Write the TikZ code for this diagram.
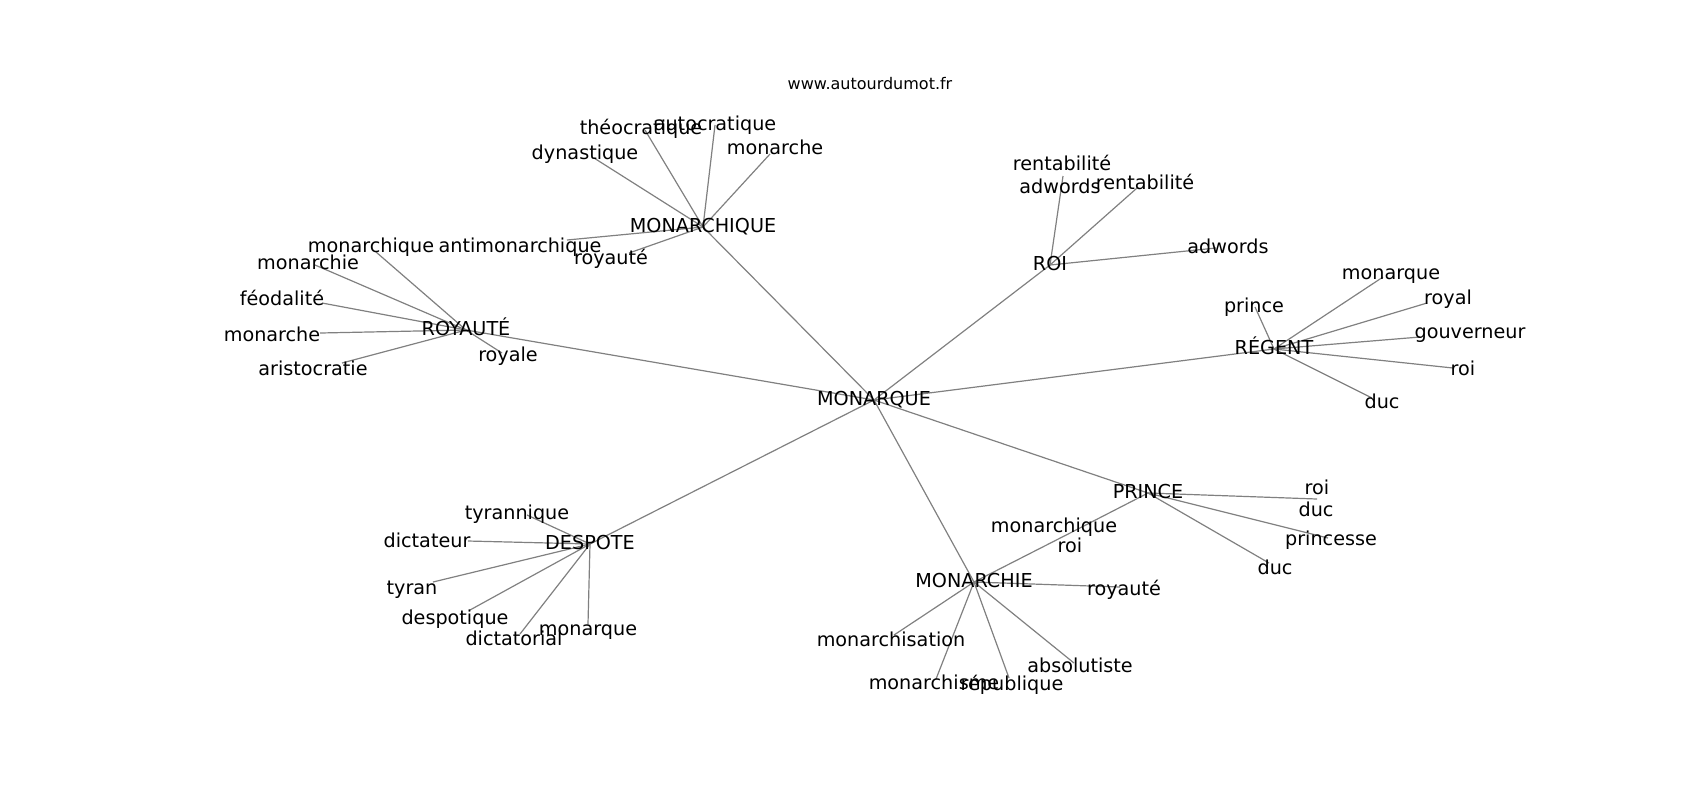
\documentclass[tikz,border=0pt]{standalone}
\usepackage{fontspec}
\setmainfont{DejaVu Sans}
\usetikzlibrary{backgrounds}

\begin{document}
\begin{tikzpicture}[x=0.5pt,y=-0.5pt,
  word/.style={inner sep=0pt,text height=0.76em,text depth=0.24em,font=\fontsize{9.6}{11}\selectfont},
  leaf/.style={word,yshift=-1pt},
  link/.style={draw=black!50,line width=0.6pt}]
\useasboundingbox (0,0) rectangle (1700,800);
\node[word,font=\fontsize{8}{10}\selectfont] (site) at (870,84) {www.autourdumot.fr};

% hubs
\node[word] (monarque) at (874,400) {MONARQUE};
\node[word] (monarchique) at (703,227) {MONARCHIQUE};
\node[word] (royaute) at (466,330) {ROYAUTÉ};
\node[word] (roi) at (1050,265) {ROI};
\node[word] (regent) at (1274,349) {RÉGENT};
\node[word] (prince) at (1148,493) {PRINCE};
\node[word] (monarchie) at (974,582) {MONARCHIE};
\node[word] (despote) at (590,544) {DESPOTE};

% leaves of MONARCHIQUE
\node[leaf] (mq-dyn) at (585,152) {dynastique};
\node[leaf] (mq-theo) at (641,127) {théocratique};
\node[leaf] (mq-auto) at (715,123) {autocratique};
\node[leaf] (mq-mche) at (775,147) {monarche};
\node[leaf] (mq-anti) at (520,245) {antimonarchique};
\node[leaf] (mq-roy) at (611,257) {royauté};
\coordinate (mq-dyn-p) at (594,158);
\coordinate (mq-theo-p) at (645,130);
\coordinate (mq-auto-p) at (715,125);
\coordinate (mq-mche-p) at (770,154);
\coordinate (mq-anti-p) at (567,240);
\coordinate (mq-roy-p) at (629,253);

% leaves of ROYAUTE
\node[leaf] (ry-mqe) at (371,245) {monarchique};
\node[leaf] (ry-mie) at (308,262) {monarchie};
\node[leaf] (ry-feo) at (282,298) {féodalité};
\node[leaf] (ry-mche) at (272,334) {monarche};
\node[leaf] (ry-ari) at (313,368) {aristocratie};
\node[leaf] (ry-ale) at (508,354) {royale};
\coordinate (ry-mqe-p) at (376,252);
\coordinate (ry-mie-p) at (315,265);
\coordinate (ry-feo-p) at (322,303);
\coordinate (ry-mche-p) at (320,333);
\coordinate (ry-ari-p) at (342,363);
\coordinate (ry-ale-p) at (502,353);

% leaves of ROI
\node[leaf] (ro-ren1) at (1062,163) {rentabilité};
\node[leaf] (ro-adw1) at (1060,186) {adwords};
\node[leaf] (ro-ren2) at (1145,182) {rentabilité};
\node[leaf] (ro-adw2) at (1228,246) {adwords};
\coordinate (ro-ren1-p) at (1063,176);
\coordinate (ro-ren2-p) at (1137,188);
\coordinate (ro-adw2-p) at (1216,248);

% leaves of REGENT
\node[leaf] (rg-pri) at (1254,305) {prince};
\node[leaf] (rg-mqe) at (1391,272) {monarque};
\node[leaf] (rg-ral) at (1448,297) {royal};
\node[leaf] (rg-gou) at (1470,331) {gouverneur};
\node[leaf] (rg-roi) at (1463,368) {roi};
\node[leaf] (rg-duc) at (1382,401) {duc};
\coordinate (rg-pri-p) at (1255,307);
\coordinate (rg-mqe-p) at (1383,277);
\coordinate (rg-ral-p) at (1427,303);
\coordinate (rg-gou-p) at (1420,337);
\coordinate (rg-roi-p) at (1453,368);
\coordinate (rg-duc-p) at (1372,398);

% leaves of PRINCE
\node[leaf] (pr-roi1) at (1317,487) {roi};
\node[leaf] (pr-duc1) at (1316,509) {duc};
\node[leaf] (pr-ess) at (1331,538) {princesse};
\node[leaf] (pr-duc2) at (1275,567) {duc};
\node[leaf] (pr-roi2) at (1070,545) {roi};
\coordinate (pr-roi1-p) at (1317,499);
\coordinate (pr-ess-p) at (1328,538);
\coordinate (pr-duc2-p) at (1269,563);
\coordinate (pr-roi2-p) at (1074,531);

% leaves of MONARCHIE
\node[leaf] (mc-mqe) at (1054,525) {monarchique};
\node[leaf] (mc-roy) at (1124,588) {royauté};
\node[leaf] (mc-sat) at (891,639) {monarchisation};
\node[leaf] (mc-sme) at (934,682) {monarchisme};
\node[leaf] (mc-rep) at (1012,683) {république};
\node[leaf] (mc-abs) at (1080,665) {absolutiste};
\coordinate (mc-mqe-p) at (1074,531);
\coordinate (mc-roy-p) at (1120,587);
\coordinate (mc-sat-p) at (894,635);
\coordinate (mc-sme-p) at (936,679);
\coordinate (mc-rep-p) at (1009,678);
\coordinate (mc-abs-p) at (1074,663);

% leaves of DESPOTE
\node[leaf] (de-tyq) at (517,512) {tyrannique};
\node[leaf] (de-dic) at (427,540) {dictateur};
\node[leaf] (de-tyr) at (412,587) {tyran};
\node[leaf] (de-des) at (455,617) {despotique};
\node[leaf] (de-dal) at (514,638) {dictatorial};
\node[leaf] (de-mqe) at (588,628) {monarque};
\coordinate (de-tyq-p) at (527,515);
\coordinate (de-dic-p) at (468,541);
\coordinate (de-tyr-p) at (433,582);
\coordinate (de-des-p) at (470,610);
\coordinate (de-dal-p) at (520,634);
\coordinate (de-mqe-p) at (588,624);

\begin{pgfonlayer}{background}
\foreach \h in {monarchique,royaute,roi,regent,prince,monarchie,despote}
  \draw[link] (monarque.center) -- (\h.center);
\foreach \l in {dyn,theo,auto,mche,anti,roy}
  \draw[link] (monarchique.center) -- (mq-\l-p);
\foreach \l in {mqe,mie,feo,mche,ari,ale}
  \draw[link] (royaute.center) -- (ry-\l-p);
\foreach \l in {ren1,ren2,adw2}
  \draw[link] (roi.center) -- (ro-\l-p);
\foreach \l in {pri,mqe,ral,gou,roi,duc}
  \draw[link] (regent.center) -- (rg-\l-p);
\foreach \l in {roi1,ess,duc2,roi2}
  \draw[link] (prince.center) -- (pr-\l-p);
\foreach \l in {mqe,roy,sat,sme,rep,abs}
  \draw[link] (monarchie.center) -- (mc-\l-p);
\foreach \l in {tyq,dic,tyr,des,dal,mqe}
  \draw[link] (despote.center) -- (de-\l-p);
\end{pgfonlayer}

\end{tikzpicture}
\end{document}
